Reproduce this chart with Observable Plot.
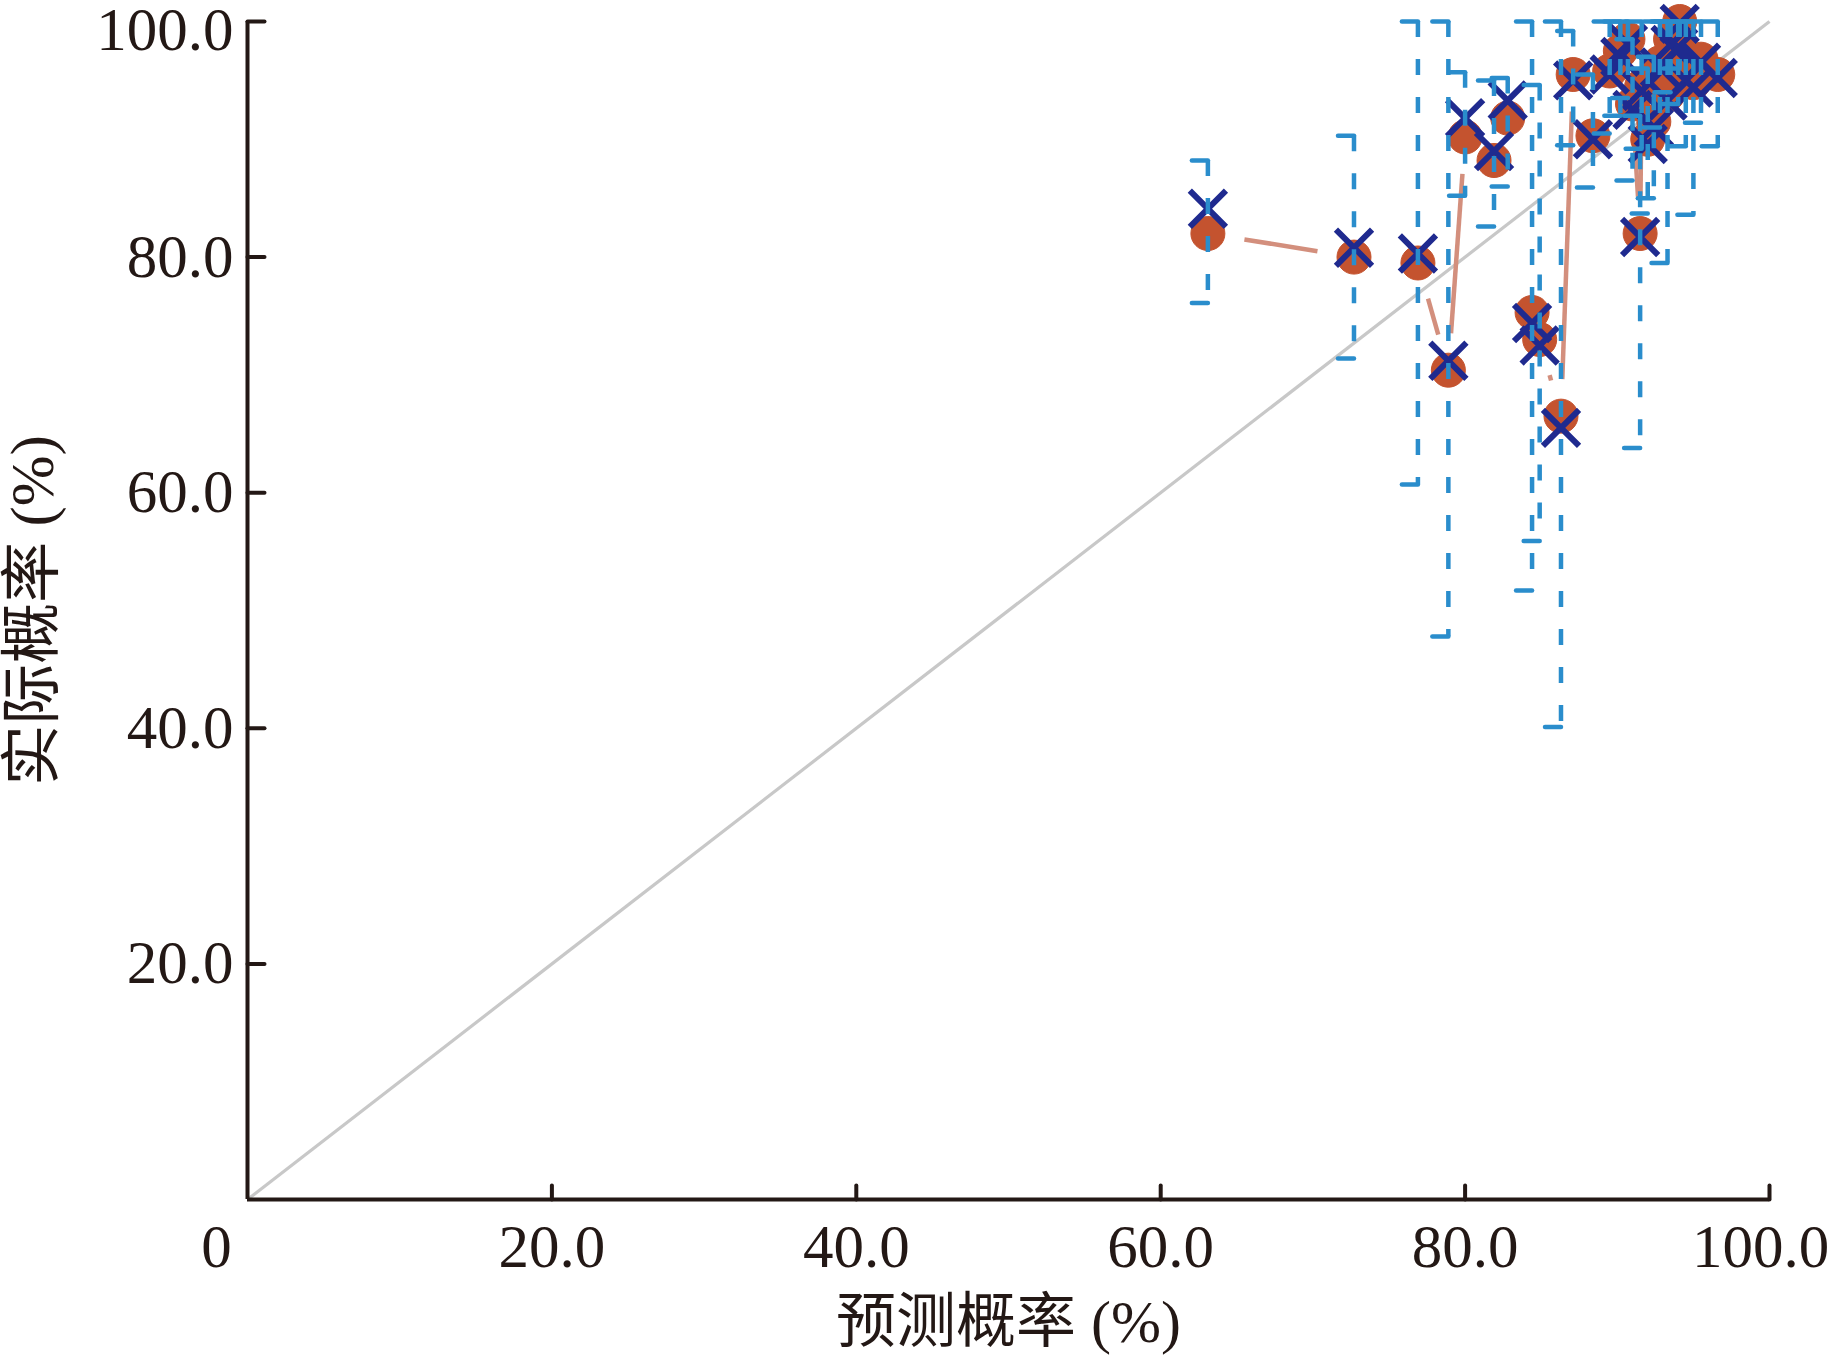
<!DOCTYPE html>
<html><head><meta charset="utf-8">
<script src="https://cdn.jsdelivr.net/npm/d3@7"></script>
<script src="https://cdn.jsdelivr.net/npm/@observablehq/plot@0.6"></script>
<style>html,body{margin:0;padding:0;background:#fff;}</style>
</head><body><div id="chart"></div>
<script>
// Calibration data (percent)
const predicted = [63.1, 72.7, 76.9, 78.9, 80.0, 81.9, 82.8, 84.4, 84.9, 86.3, 87.1, 88.4, 89.5, 90.2, 90.7, 91.0, 91.5, 91.6, 92.0, 92.4, 92.8, 93.3, 93.5, 94.0, 94.1, 94.5, 95.0, 95.5, 96.6];
const apparent  = [82.0, 80.0, 79.5, 70.4, 90.2, 88.2, 91.8, 75.3, 73.0, 66.5, 95.5, 90.3, 95.8, 97.5, 98.5, 93.0, 82.0, 94.5, 90.0, 91.5, 96.5, 93.8, 98.5, 98.0, 100.0, 95.5, 94.8, 96.8, 95.5];
const corrected = [84.1, 80.8, 80.3, 71.2, 91.8, 89.0, 93.3, 74.4, 72.5, 65.5, 95.0, 90.0, 95.5, 97.0, 98.1, 92.5, 81.7, 94.1, 89.6, 91.0, 96.1, 93.3, 98.0, 97.8, 99.8, 95.0, 94.4, 96.5, 95.2];
const ciLow     = [76.1, 71.4, 60.7, 47.8, 85.2, 82.6, 86.0, 51.7, 55.9, 40.1, 89.5, 85.9, 90.5, 92.0, 93.5, 86.5, 63.8, 89.2, 83.7, 85.0, 91.0, 79.5, 94.0, 93.0, 96.0, 89.4, 83.6, 91.4, 89.4];
const ciHigh    = [88.2, 90.3, 100, 100, 95.7, 95.0, 95.2, 100, 94.6, 100, 99.2, 95.5, 100, 100, 100, 98.5, 92.0, 100, 96.0, 97.0, 100, 100, 100, 100, 100, 100, 100, 100, 100];
// connecting-line groups (points are joined only within a group)
const lineGroup = ["A","A","A","A","A","A","A","B","B","B","B","B","B","B","B","B","B","B","B","B","B","B","B","B","B","B","B","B","B"];
const xTicks = [20, 40, 60, 80, 100];
const yTicks = [20, 40, 60, 80, 100];
const originLabel = [0];
const xLabel = "预测概率 (%)";
const yLabel = "实际概率 (%)";

const rows = predicted.map((x, i) => ({x, a: apparent[i], c: corrected[i], lo: ciLow[i], hi: ciHigh[i], g: lineGroup[i]}));
const segs = rows.slice(1)
  .map((d, i) => ({x1: rows[i].x, y1: rows[i].a, x2: d.x, y2: d.a, same: rows[i].g === d.g}))
  .filter(s => s.same);

const stick = {draw(context, l) { context.moveTo(0, 0); context.lineTo(0, -l); }};
const axisColor = "#231815";
const serif = "'Liberation Serif', 'Times New Roman', serif";
const cjk = "'Liberation Serif', 'Noto Sans CJK SC', serif";
const tickText = {tickSize: 0, fontSize: 61, fontFamily: serif, fill: axisColor, label: null};

const chart = Plot.plot({
  width: 1830,
  height: 1357,
  marginLeft: 247,
  marginRight: 61,
  marginTop: 21,
  marginBottom: 158,
  x: {domain: [0, 100]},
  y: {domain: [0, 100]},
  style: {background: "#fff", fontFamily: serif},
  marks: [
    // ideal line
    Plot.link([0], {x1: 0, y1: 0, x2: 100, y2: 100, stroke: "#c8c8c8", strokeWidth: 3.2}),
    // connecting line with gaps at markers
    Plot.arrow(segs, {x1: "x1", y1: "y1", x2: "x2", y2: "y2", headLength: 0, insetStart: 37, insetEnd: 37, stroke: "#d38f7d", strokeWidth: 4.5, strokeLinecap: "butt"}),
    // apparent points
    Plot.dot(rows, {x: "x", y: "a", r: 17, fill: "#c4532f", stroke: "#c4532f", strokeWidth: 1}),
    // bias-corrected marks
    Plot.dot(rows, {x: "x", y: "c", r: 16.5, symbol: "times", stroke: "#1f2a8f", strokeWidth: 6}),
    // confidence intervals
    Plot.ruleX(rows, {x: "x", y1: "hi", y2: "lo", stroke: "#2a8dcc", strokeWidth: 4.5, strokeDasharray: "16,22"}),
    Plot.vector(rows, {x: "x", y: "hi", length: 16, rotate: -90, anchor: "start", shape: stick, stroke: "#2a8dcc", strokeWidth: 4.5}),
    Plot.vector(rows, {x: "x", y: "lo", length: 16, rotate: -90, anchor: "start", shape: stick, stroke: "#2a8dcc", strokeWidth: 4.5}),
    // axes lines
    Plot.ruleY([0], {stroke: axisColor, strokeWidth: 4}),
    Plot.ruleX([0], {stroke: axisColor, strokeWidth: 4}),
    // inward ticks
    Plot.vector(xTicks, {x: d => d, y: 0, length: 14, rotate: 0, anchor: "start", shape: stick, stroke: axisColor, strokeWidth: 4}),
    Plot.vector(yTicks, {x: 0, y: d => d, length: 17, rotate: 90, anchor: "start", shape: stick, stroke: axisColor, strokeWidth: 4}),
    // tick labels
    Plot.axisX(xTicks.filter(d => d < 100), {...tickText, tickPadding: 24, tickFormat: d => d.toFixed(1)}),
    Plot.axisX(xTicks.filter(d => d === 100), {...tickText, tickPadding: 24, tickFormat: d => d.toFixed(1), dx: -9}),
    Plot.axisX(originLabel, {...tickText, tickPadding: 24, tickFormat: d => String(d), dx: -31}),
    Plot.axisY(yTicks.filter(d => d < 100), {...tickText, tickPadding: 14, tickFormat: d => d.toFixed(1)}),
    Plot.axisY(yTicks.filter(d => d === 100), {...tickText, tickPadding: 14, tickFormat: d => d.toFixed(1), dy: 9}),
    // axis titles
    Plot.text([xLabel], {text: d => d, frameAnchor: "bottom", dy: 123, fontSize: 60, fontFamily: cjk, fill: axisColor, textAnchor: "middle", lineAnchor: "middle"}),
    Plot.text([yLabel], {text: d => d, frameAnchor: "left", dx: -214, rotate: -90, fontSize: 61, fontFamily: cjk, fill: axisColor, textAnchor: "middle", lineAnchor: "middle"})
  ]
});
document.getElementById("chart").appendChild(chart);
</script>
</body></html>
